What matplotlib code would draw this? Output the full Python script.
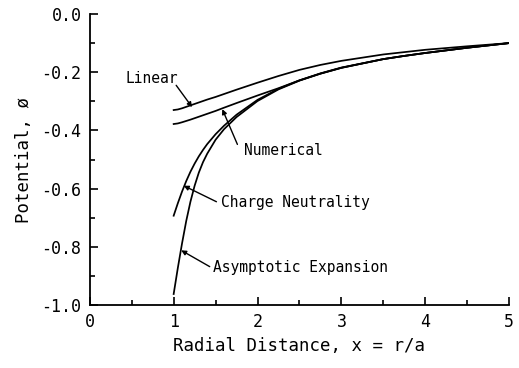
"""
Potential vs radial distance: four approximations compared
"""

import matplotlib
matplotlib.use("Agg")
import matplotlib.pyplot as plt
from matplotlib.ticker import MultipleLocator

plt.rcParams["font.family"] = ["DejaVu Sans Mono"]
plt.rcParams["axes.unicode_minus"] = False

# curve values
x_linear = [1.0, 1.05, 1.1, 1.15, 1.2, 1.3, 1.4, 1.5, 1.6, 1.75, 2.0, 2.25,
            2.5, 2.75, 3.0, 3.5, 3.75, 4.0, 4.5, 5.0]
phi_linear = [-0.330, -0.328, -0.324, -0.319, -0.314, -0.304, -0.294,
              -0.285, -0.275, -0.260, -0.236, -0.213, -0.192, -0.175,
              -0.161, -0.139, -0.131, -0.123, -0.111, -0.100]

x_num = [1.0, 1.05, 1.1, 1.2, 1.3, 1.4, 1.5, 1.6, 1.75, 2.0, 2.25, 2.5,
         2.75, 3.0, 3.5, 3.75, 4.0, 4.5, 5.0]
phi_num = [-0.378, -0.376, -0.372, -0.363, -0.353, -0.343, -0.333, -0.322,
           -0.306, -0.280, -0.255, -0.228, -0.205, -0.185, -0.155, -0.144,
           -0.134, -0.116, -0.100]

x_cn = [1.0, 1.05, 1.1, 1.15, 1.2, 1.25, 1.3, 1.35, 1.4, 1.5, 1.6, 1.75,
        2.0, 2.25, 2.5, 2.75, 3.0, 3.5, 3.75, 4.0, 4.5, 5.0]
phi_cn = [-0.693, -0.650, -0.610, -0.574, -0.542, -0.514, -0.489, -0.467,
          -0.447, -0.413, -0.384, -0.346, -0.295, -0.257, -0.228, -0.204,
          -0.184, -0.155, -0.144, -0.134, -0.116, -0.100]

x_ae = [1.0, 1.05, 1.1, 1.15, 1.2, 1.25, 1.3, 1.35, 1.4, 1.5, 1.6, 1.75,
        2.0, 2.25, 2.5, 2.75, 3.0, 3.5, 3.75, 4.0, 4.5, 5.0]
phi_ae = [-0.962, -0.872, -0.788, -0.711, -0.645, -0.590, -0.545, -0.509,
          -0.480, -0.432, -0.396, -0.354, -0.299, -0.259, -0.229, -0.205,
          -0.185, -0.155, -0.144, -0.134, -0.116, -0.100]

# label text, label anchor (data), arrow tip (data)
LABELS = [
    ("Linear", (0.42, -0.22), (1.22, -0.320)),
    ("Numerical", (1.84, -0.47), (1.58, -0.327)),
    ("Charge Neutrality", (1.57, -0.648), (1.12, -0.590)),
    ("Asymptotic Expansion", (1.47, -0.872), (1.09, -0.812)),
]
LABEL_TAILS = [(1.03, -0.245), (1.76, -0.448), (1.51, -0.645), (1.43, -0.868)]


def main():
    fig = plt.figure(figsize=(5.19, 3.68), dpi=100, facecolor="white")
    ax = fig.add_axes([0.173, 0.171, 0.808, 0.791])

    for xs, ys in [(x_linear, phi_linear), (x_num, phi_num),
                   (x_cn, phi_cn), (x_ae, phi_ae)]:
        ax.plot(xs, ys, color="black", linewidth=1.25, solid_joinstyle="round")

    for (text, pos, tip), tail in zip(LABELS, LABEL_TAILS):
        ax.annotate("", xy=tip, xytext=tail,
                    arrowprops=dict(arrowstyle="-|>", color="black", lw=1.0,
                                    mutation_scale=7, shrinkA=0, shrinkB=0))
        ax.text(pos[0], pos[1], text, fontsize=10.5, ha="left", va="center",
                color="black")

    ax.set_xlim(0, 5)
    ax.set_ylim(-1.0, 0.0)
    ax.xaxis.set_major_locator(MultipleLocator(1))
    ax.xaxis.set_minor_locator(MultipleLocator(0.5))
    ax.yaxis.set_major_locator(MultipleLocator(0.2))
    ax.yaxis.set_minor_locator(MultipleLocator(0.1))
    ax.yaxis.set_major_formatter(lambda v, p: f"{v:.1f}")

    for side in ("top", "right"):
        ax.spines[side].set_visible(False)
    for side in ("left", "bottom"):
        ax.spines[side].set_linewidth(1.3)
    ax.tick_params(which="major", direction="in", length=6, width=1.2,
                   labelsize=12, pad=6)
    ax.tick_params(which="minor", direction="in", length=3.5, width=1.2)

    ax.set_xlabel("Radial Distance, x = r/a", fontsize=12.5, labelpad=4)
    ax.set_ylabel("Potential, ø", fontsize=12.5, labelpad=6)

    fig.savefig("out.png", dpi=100, facecolor="white")
    plt.close(fig)


if __name__ == "__main__":
    main()
